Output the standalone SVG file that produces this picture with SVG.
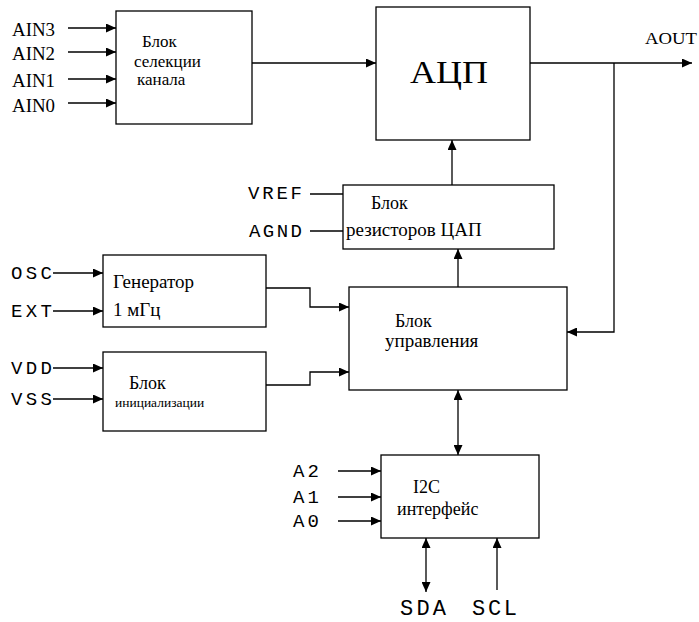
<svg xmlns="http://www.w3.org/2000/svg" width="699" height="622" viewBox="0 0 699 622">
<style>
.box{fill:#fff;stroke:#000;stroke-width:1.3}
.ln{fill:none;stroke:#000;stroke-width:1.3}
.a{marker-end:url(#ah)}
.b{marker-start:url(#ah);marker-end:url(#ah)}
.s{font-family:"Liberation Serif","DejaVu Serif","Times New Roman",serif;fill:#000}
.m{font-family:"Liberation Mono","Courier New",monospace;fill:#000}
</style>
<defs>
<marker id="ah" viewBox="0 0 10 9" refX="10" refY="4.5" markerWidth="10" markerHeight="9" markerUnits="userSpaceOnUse" orient="auto-start-reverse">
<path d="M0,0 L10,4.5 L0,9 z" fill="#000"/>
</marker>
</defs>
<rect width="699" height="622" fill="#fff"/>
<g id="connectors">
<line class="ln a" x1="68" y1="28" x2="116" y2="28"/>
<line class="ln a" x1="68" y1="52" x2="116" y2="52"/>
<line class="ln a" x1="68" y1="79" x2="116" y2="79"/>
<line class="ln a" x1="68" y1="103" x2="116" y2="103"/>
<line class="ln a" x1="252" y1="63" x2="376" y2="63"/>
<line class="ln a" x1="530" y1="63" x2="692" y2="63"/>
<polyline class="ln a" points="614,63 614,332 567,332"/>
<line class="ln a" x1="452" y1="185" x2="452" y2="140"/>
<line class="ln" x1="310" y1="194" x2="343" y2="194"/>
<line class="ln" x1="310" y1="231" x2="343" y2="231"/>
<line class="ln a" x1="458" y1="287" x2="458" y2="249"/>
<line class="ln a" x1="53" y1="273" x2="103" y2="273"/>
<line class="ln a" x1="53" y1="311" x2="103" y2="311"/>
<line class="ln a" x1="53" y1="368" x2="103" y2="368"/>
<line class="ln a" x1="53" y1="399" x2="103" y2="399"/>
<polyline class="ln a" points="266,288 310,288 310,307 349,307"/>
<polyline class="ln a" points="266,385 310,385 310,372 349,372"/>
<line class="ln b" x1="458" y1="390" x2="458" y2="455"/>
<line class="ln a" x1="338" y1="471" x2="381" y2="471"/>
<line class="ln a" x1="338" y1="497" x2="381" y2="497"/>
<line class="ln a" x1="338" y1="521" x2="381" y2="521"/>
<line class="ln b" x1="426" y1="538" x2="426" y2="592"/>
<line class="ln a" x1="497" y1="590" x2="497" y2="538"/>
</g>
<g id="labels">
<text class="s" x="12" y="36" font-size="18" textLength="43" lengthAdjust="spacingAndGlyphs">AIN3</text>
<text class="s" x="12" y="60" font-size="18" textLength="43" lengthAdjust="spacingAndGlyphs">AIN2</text>
<text class="s" x="12" y="87" font-size="18" textLength="43" lengthAdjust="spacingAndGlyphs">AIN1</text>
<text class="s" x="12" y="112" font-size="18" textLength="43" lengthAdjust="spacingAndGlyphs">AIN0</text>
<text class="s" x="645" y="44" font-size="16" textLength="52" lengthAdjust="spacingAndGlyphs">AOUT</text>
<text class="m" x="248" y="199" font-size="19" textLength="54">VREF</text>
<text class="m" x="249" y="237" font-size="19" textLength="53">AGND</text>
<text class="m" x="11" y="279" font-size="19" textLength="41">OSC</text>
<text class="m" x="11" y="317" font-size="19" textLength="41">EXT</text>
<text class="m" x="11" y="374" font-size="19" textLength="41">VDD</text>
<text class="m" x="11" y="405" font-size="19" textLength="41">VSS</text>
<text class="m" x="293" y="477" font-size="19" textLength="26">A2</text>
<text class="m" x="293" y="503" font-size="19" textLength="26">A1</text>
<text class="m" x="293" y="527" font-size="19" textLength="26">A0</text>
<text class="m" x="400" y="615" font-size="22" textLength="46">SDA</text>
<text class="m" x="472" y="615" font-size="22" textLength="45">SCL</text>
</g>
<g id="sel">
<rect class="box" x="116" y="11" width="136" height="113"/>
<text class="s" x="142" y="47" font-size="17">Блок</text>
<text class="s" x="134" y="67" font-size="17">селекции</text>
<text class="s" x="137" y="85" font-size="17">канала</text>
</g>
<g id="adc">
<rect class="box" x="376" y="7" width="154" height="133"/>
<text class="s" x="410" y="83" font-size="31" textLength="78" lengthAdjust="spacingAndGlyphs">АЦП</text>
</g>
<g id="dac">
<rect class="box" x="343" y="185" width="211" height="64"/>
<text class="s" x="371" y="209" font-size="18">Блок</text>
<text class="s" x="346" y="236" font-size="19">резисторов ЦАП</text>
</g>
<g id="gen">
<rect class="box" x="103" y="255" width="163" height="72"/>
<text class="s" x="113" y="288" font-size="19">Генератор</text>
<text class="s" x="113" y="316" font-size="19">1 мГц</text>
</g>
<g id="init">
<rect class="box" x="103" y="352" width="163" height="79"/>
<text class="s" x="129" y="389" font-size="18">Блок</text>
<text class="s" x="115" y="407" font-size="13.5">инициализации</text>
</g>
<g id="ctrl">
<rect class="box" x="349" y="287" width="218" height="103"/>
<text class="s" x="395" y="327" font-size="18">Блок</text>
<text class="s" x="385" y="347" font-size="19">управления</text>
</g>
<g id="i2c">
<rect class="box" x="381" y="455" width="158" height="83"/>
<text class="s" x="413" y="493" font-size="18">I2C</text>
<text class="s" x="397" y="515" font-size="18">интерфейс</text>
</g>
</svg>
